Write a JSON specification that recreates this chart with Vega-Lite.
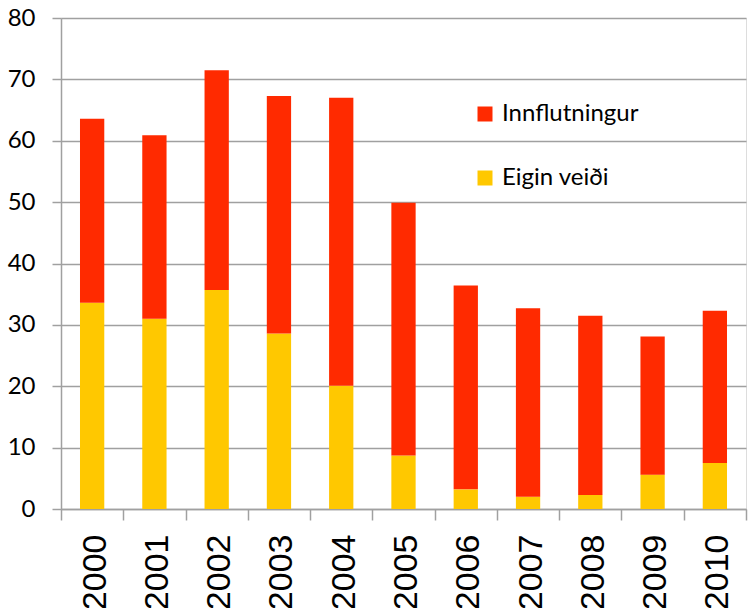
{
  "$schema": "https://vega.github.io/schema/vega-lite/v6.json",
  "width": 685,
  "height": 491,
  "autosize": {"type": "none"},
  "padding": {"left": 61, "top": 18, "right": 2, "bottom": 99},
  "background": "white",
  "data": {
    "values": [
      {"year": "2000", "series": "Eigin veiði", "value": 33.6},
      {"year": "2000", "series": "Innflutningur", "value": 30.0},
      {"year": "2001", "series": "Eigin veiði", "value": 31.0},
      {"year": "2001", "series": "Innflutningur", "value": 29.9},
      {"year": "2002", "series": "Eigin veiði", "value": 35.7},
      {"year": "2002", "series": "Innflutningur", "value": 35.8},
      {"year": "2003", "series": "Eigin veiði", "value": 28.6},
      {"year": "2003", "series": "Innflutningur", "value": 38.7},
      {"year": "2004", "series": "Eigin veiði", "value": 20.1},
      {"year": "2004", "series": "Innflutningur", "value": 46.9},
      {"year": "2005", "series": "Eigin veiði", "value": 8.7},
      {"year": "2005", "series": "Innflutningur", "value": 41.2},
      {"year": "2006", "series": "Eigin veiði", "value": 3.2},
      {"year": "2006", "series": "Innflutningur", "value": 33.2},
      {"year": "2007", "series": "Eigin veiði", "value": 2.0},
      {"year": "2007", "series": "Innflutningur", "value": 30.7},
      {"year": "2008", "series": "Eigin veiði", "value": 2.3},
      {"year": "2008", "series": "Innflutningur", "value": 29.2},
      {"year": "2009", "series": "Eigin veiði", "value": 5.6},
      {"year": "2009", "series": "Innflutningur", "value": 22.5},
      {"year": "2010", "series": "Eigin veiði", "value": 7.5},
      {"year": "2010", "series": "Innflutningur", "value": 24.8}
    ]
  },
  "mark": {"type": "bar", "width": {"band": 0.39}},
  "encoding": {
    "x": {
      "field": "year",
      "type": "nominal",
      "title": null,
      "scale": {"paddingInner": 0, "paddingOuter": 0},
      "axis": {
        "labelAngle": -90,
        "labelAlign": "right",
        "labelBaseline": "middle",
        "labelFont": "Liberation Sans",
        "labelFontSize": 34,
        "labelColor": "#000",
        "labelPadding": 14,
        "labelOffset": 3,
        "tickBand": "extent",
        "tickSize": 11,
        "tickColor": "#a0a0a0",
        "tickWidth": 1.5,
        "domainColor": "#a0a0a0",
        "domainWidth": 1.5,
        "grid": false
      }
    },
    "y": {
      "field": "value",
      "type": "quantitative",
      "aggregate": "sum",
      "stack": "zero",
      "title": null,
      "scale": {"domain": [0, 80], "nice": false},
      "axis": {
        "values": [0, 10, 20, 30, 40, 50, 60, 70, 80],
        "labelFont": "Lato",
        "labelFontSize": 24,
        "labelColor": "#000",
        "labelPadding": 17,
        "tickSize": 9,
        "tickColor": "#a0a0a0",
        "tickWidth": 1.5,
        "domainColor": "#a0a0a0",
        "domainWidth": 1.5,
        "gridColor": "#a0a0a0",
        "gridWidth": 1.5
      }
    },
    "color": {
      "field": "series",
      "type": "nominal",
      "scale": {"domain": ["Innflutningur", "Eigin veiði"], "range": ["#ff2a00", "#ffc800"]},
      "legend": {
        "title": null,
        "orient": "none",
        "legendX": 412,
        "legendY": 84,
        "padding": 0,
        "symbolType": "square",
        "symbolSize": 225,
        "symbolStrokeWidth": 0,
        "labelFont": "Lato",
        "labelFontSize": 24,
        "labelColor": "#000",
        "labelOffset": 5,
        "rowPadding": 40
      }
    },
    "order": {"field": "series", "sort": "ascending"}
  }
}
